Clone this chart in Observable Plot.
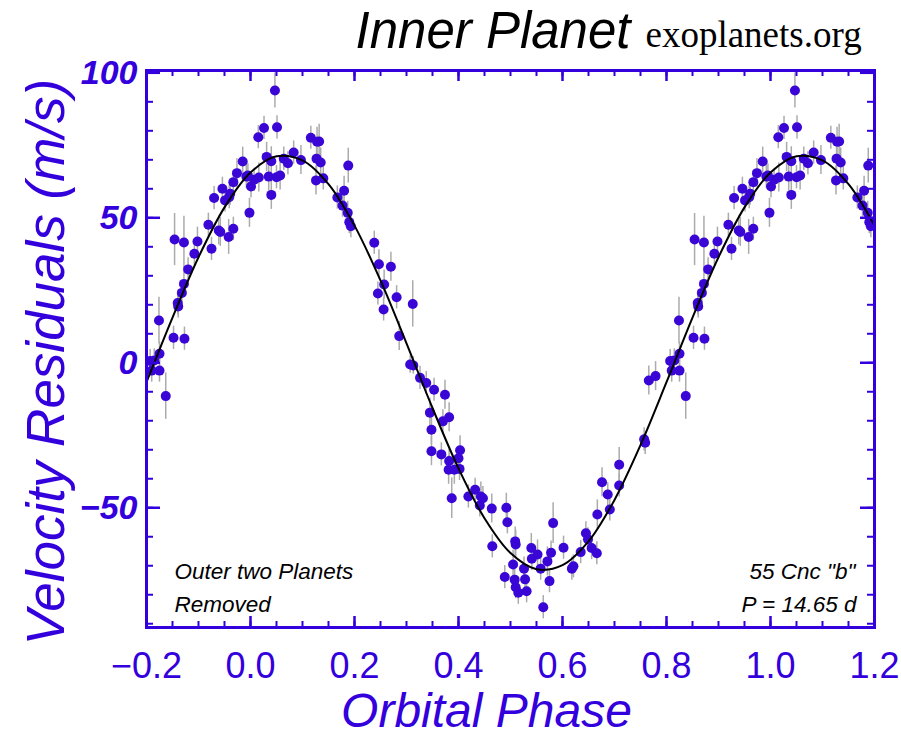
<!DOCTYPE html>
<html>
<head>
<meta charset="utf-8">
<script src="https://cdn.jsdelivr.net/npm/d3@7"></script>
<script src="https://cdn.jsdelivr.net/npm/@observablehq/plot@0.6"></script>
<style>
  body { margin: 0; background: #fff; }
  #chart { width: 901px; height: 735px; }
</style>
</head>
<body>
<div id="chart"></div>
<script>
// ---- Data: phase-folded velocity residuals (phase in [0,1)) ----
const phase = [
  0.001,0.007,0.016,0.015,0.026,0.031,0.035,0.040,0.040,0.047,
  0.051,0.050,0.057,0.064,0.072,0.083,0.097,0.116,0.128,0.132,
  0.127,0.135,0.126,0.140,0.188,0.180,0.167,0.177,0.187,0.190,
  0.193,0.238,0.247,0.257,0.245,0.256,0.270,0.281,0.312,0.286,
  0.307,0.313,0.326,0.338,0.353,0.374,0.345,0.348,0.370,0.382,
  0.348,0.367,0.382,0.403,0.400,0.381,0.392,0.402,0.387,0.419,
  0.432,0.443,0.447,0.441,0.464,0.492,0.494,0.465,0.509,0.510,
  0.505,0.489,0.508,0.510,0.515,0.526,0.528,0.531,0.540,0.541,
  0.552,0.558,0.571,0.578,0.575,0.582,0.563,0.602,0.618,0.621,
  0.635,0.645,0.649,0.656,0.666,0.667,0.676,0.687,0.691,0.709,
  0.709,
  0.757,0.759,0.766,0.779,0.837,0.807,0.815,0.810,0.825,0.825,
  0.824,0.852,0.873,0.860,0.861,0.868,0.872,0.880,0.892,0.898,
  0.854,0.872,0.919,0.925,0.939,0.942,0.958,0.967,0.998,
  0.930,0.946,0.951,0.959,0.961,0.967,0.974,0.985,0.992,0.995
];
const velocity = [
  60.8,63.1,63.9,77.8,81.0,71.0,64.2,69.5,57.9,93.9,
  81.2,64.0,64.6,70.4,68.8,72.5,69.9,77.6,76.2,76.3,
  70.4,69.1,62.9,63.6,68.0,59.3,57.0,54.2,51.7,48.5,
  47.1,41.4,34.0,27.0,23.9,18.4,33.1,22.6,20.3,9.2,
  -0.6,-0.9,-5.2,-7.0,-9.3,-11.0,-17.2,-23.1,-20.2,-18.8,
  -30.5,-31.6,-33.9,-30.2,-32.9,-36.9,-36.9,-36.6,-46.7,-46.1,
  -43.8,-46.1,-46.7,-49.2,-50.3,-50.0,-55.0,-63.3,-61.6,-62.7,
  -69.6,-73.9,-74.8,-77.4,-79.3,-71.0,-74.7,-78.8,-63.9,-67.6,
  -66.1,-71.0,-68.5,-65.5,-75.3,-55.3,-84.3,-63.8,-71.0,-70.2,
  -65.3,-58.8,-60.9,-63.9,-65.7,-52.3,-41.2,-45.4,-50.6,-35.2,
  -42.3,
  -26.4,-27.6,-6.1,-4.6,-11.5,0.6,0.8,-2.7,-2.7,3.1,
  14.6,8.6,8.3,20.6,19.4,24.1,27.2,32.2,37.6,41.8,
  42.5,41.5,47.6,39.3,45.6,45.1,43.4,46.2,51.7,
  56.8,60.0,56.0,57.1,58.3,62.3,65.4,69.4,64.2,64.6
];
const errorBar = [
  4,4,5,4,4,5,5,5,5,6,
  4,4,5,4,4,4,5,4,5,6,
  5,5,5,4,6,5,4,4,4,4,
  4,4,5,5,4,4,5,4,8,5,
  3,3,4,4,4,5,5,5,4,5,
  5,4,4,5,4,5,5,4,7,4,
  4,5,4,4,5,5,4,4,5,5,
  5,4,4,4,4,4,4,4,5,4,
  5,4,5,4,4,7,4,4,4,4,
  4,4,4,4,4,5,5,4,4,6,
  4,
  4,4,5,5,8,4,4,4,4,4,
  8,4,4,4,4,4,4,4,4,5,
  9,9,4,4,5,5,6,4,5,
  4,4,4,4,4,4,5,5,4,4
];

// ---- Fitted orbit curve ----
const curvePhase = [-0.20,-0.15,-0.10,-0.05,0.00,0.05,0.10,0.15,0.20,0.25,0.30,0.35,0.40,0.45,0.50,
                    0.55,0.60,0.65,0.70,0.75,0.80,0.85,0.90,0.95,1.00,1.05,1.10,1.15,1.20];
const curveVel   = [-6.7,15.6,36.4,53.6,65.6,71.2,69.8,61.6,47.3,28.4,6.7,-15.6,-36.4,-53.6,-65.6,
                    -71.2,-69.8,-61.6,-47.3,-28.4,-6.7,15.6,36.4,53.6,65.6,71.2,69.8,61.6,47.3];

// ---- Tick values / labels ----
const xMajor = [-0.2, 0.0, 0.2, 0.4, 0.6, 0.8, 1.0, 1.2];
const yMajor = [-50, 0, 50, 100];
const xMinor = d3.range(-0.2, 1.2001, 0.05);
const yMinor = d3.range(-90, 100.001, 10);

// phase wrap: repeat each observation one cycle earlier/later inside the shown window
const rows = [];
phase.forEach((p, i) => {
  for (const s of [-1, 0, 1]) {
    const q = p + s;
    if (q >= -0.22 && q <= 1.22) rows.push({p: q, v: velocity[i], e: errorBar[i]});
  }
});
const curve = curvePhase.map((p, i) => ({p, v: curveVel[i]}));

const BLUE = "#3300dd";
const DOT = "#3a06d6";
const W = 901, H = 735, ML = 146, MR = 27, MT = 70, MB = 108;
const innerW = W - ML - MR, innerH = H - MT - MB;
const fmtX = d => (d < 0 ? "\u2212" : "") + Math.abs(d).toFixed(1);
const fmtY = d => (d < 0 ? "\u2212" : "") + Math.abs(d);
const SANS = "'Liberation Sans', Arial, Helvetica, sans-serif";

const chart = Plot.plot({
  width: W, height: H,
  marginLeft: ML, marginRight: MR, marginTop: MT, marginBottom: MB,
  x: {domain: [-0.2, 1.2], axis: null},
  y: {domain: [-91.3, 100.8], axis: null},
  style: {fontFamily: SANS, background: "#fff"},
  marks: [
    Plot.ruleX(rows, {x: "p", y1: d => d.v - d.e, y2: d => d.v + d.e, stroke: "#ababab", strokeWidth: 1.5, clip: true}),
    Plot.dot(rows, {x: "p", y: "v", r: 5, fill: DOT, clip: true}),
    Plot.line(curve, {x: "p", y: "v", curve: "catmull-rom", stroke: "#000", strokeWidth: 2, clip: true}),

    // inward ticks on all four sides
    Plot.tickX(xMinor, {x: d => d, stroke: BLUE, strokeWidth: 2, insetTop: innerH - 6}),
    Plot.tickX(xMinor, {x: d => d, stroke: BLUE, strokeWidth: 2, insetBottom: innerH - 6}),
    Plot.tickX(xMajor, {x: d => d, stroke: BLUE, strokeWidth: 2.5, insetTop: innerH - 11}),
    Plot.tickX(xMajor, {x: d => d, stroke: BLUE, strokeWidth: 2.5, insetBottom: innerH - 11}),
    Plot.tickY(yMinor, {y: d => d, stroke: BLUE, strokeWidth: 2, insetRight: innerW - 7}),
    Plot.tickY(yMinor, {y: d => d, stroke: BLUE, strokeWidth: 2, insetLeft: innerW - 7}),
    Plot.tickY(yMajor, {y: d => d, stroke: BLUE, strokeWidth: 2.5, insetRight: innerW - 14}),
    Plot.tickY(yMajor, {y: d => d, stroke: BLUE, strokeWidth: 2.5, insetLeft: innerW - 14}),
    Plot.frame({stroke: BLUE, strokeWidth: 3}),

    // tick labels
    Plot.text(xMajor, {x: d => d, text: fmtX, frameAnchor: "bottom", lineAnchor: "bottom", dy: 50,
      fontSize: 36, fill: BLUE}),
    Plot.text(yMajor, {y: d => d, text: fmtY, frameAnchor: "left", textAnchor: "end", dx: -9,
      fontSize: 34, fontWeight: "bold", fontStyle: "italic", fill: BLUE}),

    // axis titles
    Plot.text(["Orbital Phase"], {text: d => d, frameAnchor: "bottom", textAnchor: "middle", lineAnchor: "bottom",
      dy: 99, dx: -24, fontSize: 48, fontStyle: "italic", fill: BLUE}),
    Plot.text(["Velocity Residuals (m/s)"], {text: d => d, frameAnchor: "left", textAnchor: "middle", rotate: -90,
      lineAnchor: "bottom", dx: -83, dy: 13, fontSize: 53, fontStyle: "italic", fill: BLUE}),

    // title
    Plot.text(["Inner Planet"], {text: d => d, frameAnchor: "top-left", textAnchor: "start", lineAnchor: "bottom",
      dx: 209, dy: -23, fontSize: 51, fontStyle: "italic", fill: "#000"}),
    Plot.text(["exoplanets.org"], {text: d => d, frameAnchor: "top-left", textAnchor: "start", lineAnchor: "bottom",
      dx: 499, dy: -24, fontSize: 37, fontFamily: "'Liberation Serif', 'Times New Roman', serif", fill: "#000"}),

    // annotations
    Plot.text(["Outer two Planets"], {text: d => d, frameAnchor: "bottom-left", textAnchor: "start", lineAnchor: "bottom",
      dx: 28, dy: -49, fontSize: 22.5, fontStyle: "italic", fill: "#000"}),
    Plot.text(["Removed"], {text: d => d, frameAnchor: "bottom-left", textAnchor: "start", lineAnchor: "bottom",
      dx: 28, dy: -16, fontSize: 22.5, fontStyle: "italic", fill: "#000"}),
    Plot.text(["55 Cnc \"b\""], {text: d => d, frameAnchor: "bottom-right", textAnchor: "end", lineAnchor: "bottom",
      dx: -19, dy: -49, fontSize: 22.5, fontStyle: "italic", fill: "#000"}),
    Plot.text(["P = 14.65 d"], {text: d => d, frameAnchor: "bottom-right", textAnchor: "end", lineAnchor: "bottom",
      dx: -18, dy: -16, fontSize: 22.5, fontStyle: "italic", fill: "#000"})
  ]
});
document.getElementById("chart").appendChild(chart);
</script>
</body>
</html>
